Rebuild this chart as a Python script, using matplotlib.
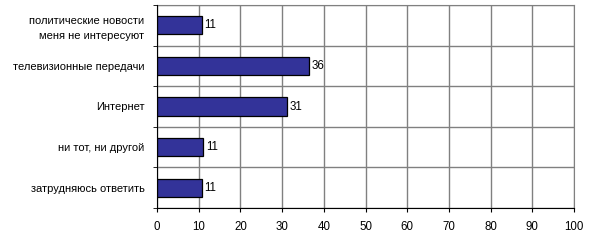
import matplotlib
matplotlib.use("Agg")
import matplotlib.pyplot as plt

plt.rcParams['font.family'] = ['Liberation Sans', 'DejaVu Sans']

categories = ["политические новости\nменя не интересуют",
              "телевизионные передачи",
              "Интернет",
              "ни тот, ни другой",
              "затрудняюсь ответить"]
values = [10.8, 36.4, 31.2, 11.1, 10.7]
labels = ["11", "36", "31", "11", "11"]
xticks = list(range(0, 101, 10))

fig = plt.figure(figsize=(6.02, 2.40), dpi=100)
ax = fig.add_axes([157 / 602, 1 - 208 / 240, (574 - 157) / 602, (208 - 5) / 240])

ys = list(range(len(categories)))
ax.barh(ys, values, height=0.45, color='#333399', edgecolor='black', linewidth=0.9, zorder=3)
for y, v, t in zip(ys, values, labels):
    ax.text(v + 0.6, y, t, va='center', ha='left', fontsize=8.3)

ax.set_xlim(0, 100)
ax.set_ylim(len(categories) - 0.5, -0.5)
ax.set_xticks(xticks)
ax.set_yticks(ys)
ax.set_yticklabels(categories, fontsize=8, linespacing=1.6)
ax.set_yticks([i - 0.5 for i in range(len(categories) + 1)], minor=True)
ax.tick_params(axis='x', labelsize=8.3, length=3, pad=6, direction='out', color='black')
ax.tick_params(axis='y', which='major', length=0, pad=9)
ax.tick_params(axis='y', which='minor', length=3, color='black')
ax.grid(axis='x', color='#808080', linewidth=1, zorder=0)
ax.grid(axis='y', which='minor', color='#808080', linewidth=1, zorder=0)
for s in ['top', 'right']:
    ax.spines[s].set_color('#808080')
for s in ['left', 'bottom']:
    ax.spines[s].set_color('black')
    ax.spines[s].set_zorder(4)

fig.savefig("out.png", dpi=100)
